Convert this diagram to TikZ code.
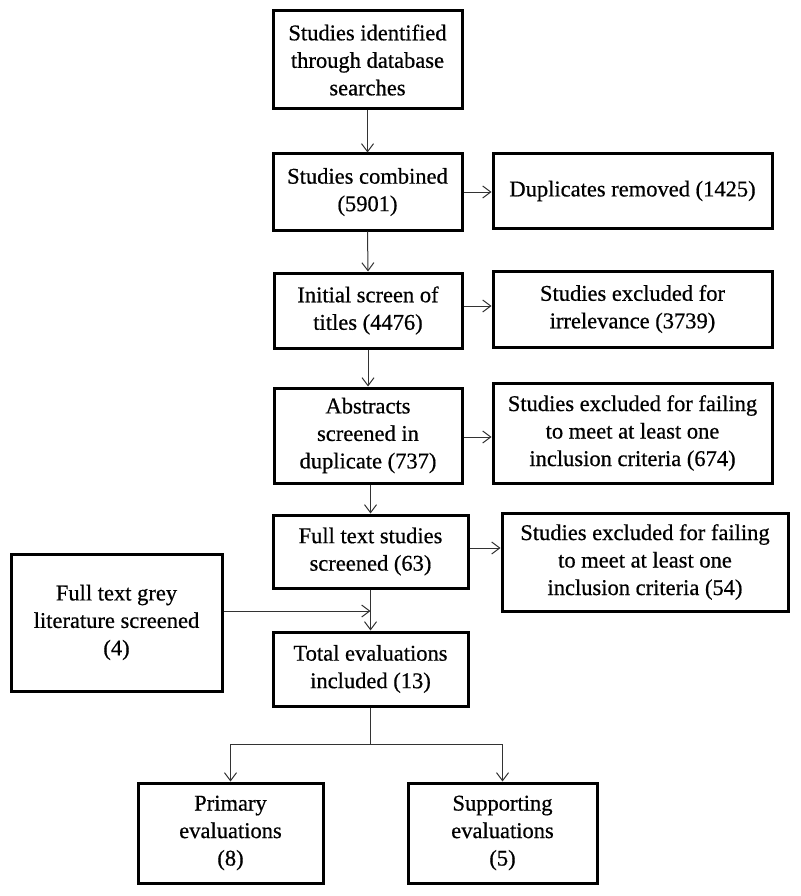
\documentclass[tikz,border=0pt]{standalone}
\usepackage{fontspec}
\setmainfont{Liberation Serif}[FakeBold=0.6]
\usetikzlibrary{arrows.meta,calc}
\begin{document}
\begin{tikzpicture}[x=1pt,y=-1pt,
  box/.style={draw=black, line width=3pt, fill=white, rectangle, inner sep=0pt,
    align=center, font=\fontsize{22.5}{27.5}\selectfont, text=black},
  conn/.style={draw=black!80, line width=1pt},
  arr/.style={conn, -{Straight Barb[length=8pt,width=12pt,line width=1pt]}}]
\useasboundingbox (0,0) rectangle (800,896);
\fill[white] (0,0) rectangle (800,896);
% main column
\node[box, minimum width=189pt, minimum height=98pt] (b1) at (367.5,60)
  {Studies identified\\through database\\searches};
\node[box, minimum width=189pt, minimum height=76pt] (b2) at (367.5,192)
  {Studies combined\\(5901)};
\node[box, minimum width=188pt, minimum height=75pt] (b3) at (368,310.5)
  {Initial screen of\\titles (4476)};
\node[box, minimum width=188pt, minimum height=95pt] (b4) at (368,435.5)
  {Abstracts\\screened in\\duplicate (737)};
\node[box, minimum width=195pt, minimum height=73pt] (b5) at (370.5,551.5)
  {Full text studies\\screened (63)};
\node[box, minimum width=195pt, minimum height=74pt] (tot) at (370.5,669)
  {Total evaluations\\included (13)};
% right column
\node[box, minimum width=279pt, minimum height=74pt] (d1) at (632.5,191)
  {Duplicates removed (1425)};
\node[box, minimum width=279pt, minimum height=76pt] (e1) at (632.5,309)
  {Studies excluded for\\irrelevance (3739)};
\node[box, minimum width=279pt, minimum height=100pt] (e2) at (632.5,433)
  {Studies excluded for failing\\to meet at least one\\inclusion criteria (674)};
\node[box, minimum width=286pt, minimum height=98pt] (e3) at (645,562)
  {Studies excluded for failing\\to meet at least one\\inclusion criteria (54)};
% left
\node[box, minimum width=211pt, minimum height=137pt] (g) at (116.5,622.5)
  {Full text grey\\literature screened\\(4)};
% bottom
\node[box, minimum width=185pt, minimum height=100pt] (p) at (230.5,833)
  {Primary\\evaluations\\(8)};
\node[box, minimum width=189pt, minimum height=100pt] (s) at (502.5,833)
  {Supporting\\evaluations\\(5)};
% vertical arrows
\draw[arr] (b1.south) -- (b2.north);
\draw[arr] (b2.south) -- (b3.north);
\draw[arr] (b3.south) -- (b4.north);
\draw[arr] (b4.south -| b5.north) -- (b5.north);
\draw[arr] (b5.south) -- (tot.north);
% side arrows
\draw[arr] (b2.east) -- (b2.east -| d1.west);
\draw[arr] ([yshift=4.5pt]b3.east) -- ([yshift=4.5pt]b3.east -| e1.west);
\draw[arr] ([yshift=-1.5pt]b4.east) -- ([yshift=-1.5pt]b4.east -| e2.west);
\draw[arr] ([yshift=3.5pt]b5.east) -- ([yshift=3.5pt]b5.east -| e3.west);
% grey literature arrow
\coordinate (gj) at ($(g.east)+(0,-11.5)$);
\draw[arr] (gj) -- (gj -| b5.south);
% split
\coordinate (split) at ($(tot.south)+(0,37)$);
\draw[conn] (tot.south) -- (split);
\draw[arr] (split) -| (p.north);
\draw[arr] (split) -| (s.north);
\end{tikzpicture}
\end{document}
